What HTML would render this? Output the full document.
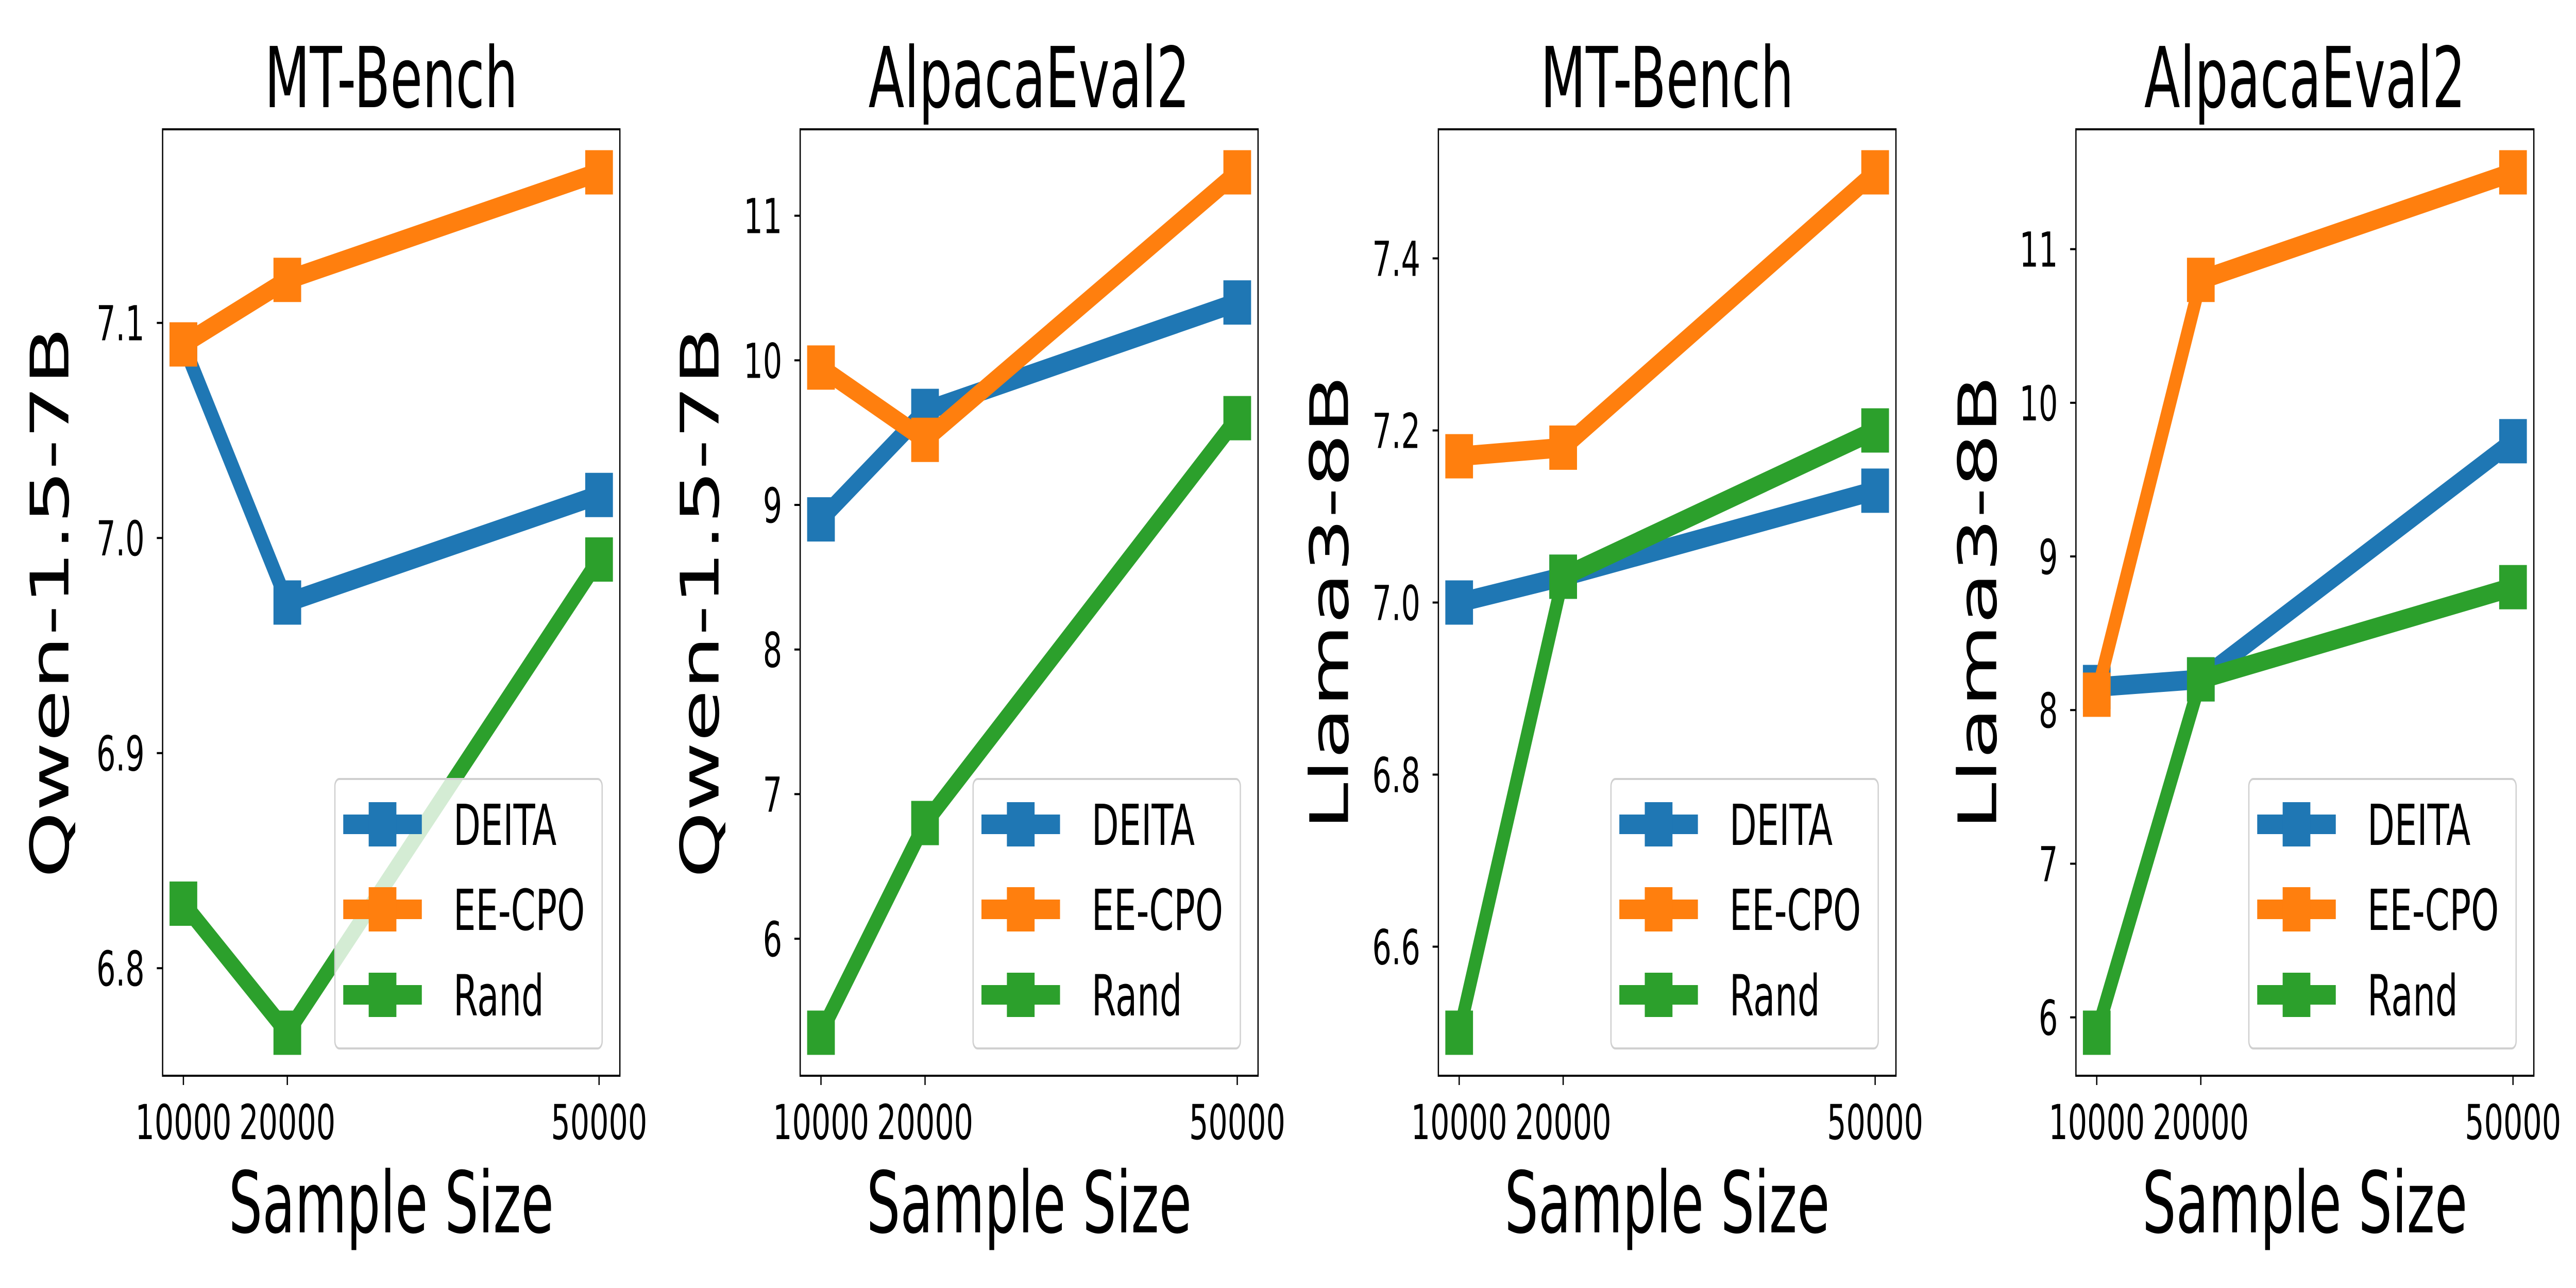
<!DOCTYPE html>
<html><head><meta charset="utf-8"><style>
html,body{margin:0;padding:0;background:#fff;width:100%;height:100%;overflow:hidden}
svg{display:block;width:100vw;height:100vh}
text{font-family:"DejaVu Sans","Liberation Sans",sans-serif;fill:#000}
</style></head>
<body>
<svg id="fig" viewBox="0 0 8000 2500" preserveAspectRatio="none" xmlns="http://www.w3.org/2000/svg"></svg>
<script>
// Shared x data
const sampleSizes = [10000, 20000, 50000];
const xTicks = [10000, 20000, 50000];
const seriesNames = ["DEITA", "EE-CPO", "Rand"];
const seriesColors = ["#1f77b4", "#ff7f0e", "#2ca02c"];

// Panel 1: Qwen MT-Bench
const p1Deita = [7.09, 6.97, 7.02];
const p1Eecpo = [7.09, 7.12, 7.17];
const p1Rand = [6.83, 6.77, 6.99];
const p1Ticks = ["6.8", "6.9", "7.0", "7.1"];
// Panel 2: Qwen AlpacaEval2
const p2Deita = [8.9, 9.65, 10.4];
const p2Eecpo = [9.95, 9.45, 11.3];
const p2Rand = [5.35, 6.8, 9.6];
const p2Ticks = ["6", "7", "8", "9", "10", "11"];
// Panel 3: Llama MT-Bench
const p3Deita = [7.0, 7.03, 7.13];
const p3Eecpo = [7.17, 7.18, 7.5];
const p3Rand = [6.5, 7.03, 7.2];
const p3Ticks = ["6.6", "6.8", "7.0", "7.2", "7.4"];
// Panel 4: Llama AlpacaEval2
const p4Deita = [8.15, 8.2, 9.75];
const p4Eecpo = [8.1, 10.8, 11.5];
const p4Rand = [5.9, 8.2, 8.8];
const p4Ticks = ["6", "7", "8", "9", "10", "11"];

const panelTitles = ["MT-Bench", "AlpacaEval2", "MT-Bench", "AlpacaEval2"];
const panelYLabels = ["Qwen-1.5-7B", "Qwen-1.5-7B", "Llama3-8B", "Llama3-8B"];

const NS = "http://www.w3.org/2000/svg";
const svg = document.getElementById("fig");
function mk(tag, attrs, parent) {
  const e = document.createElementNS(NS, tag);
  for (const k in attrs) e.setAttribute(k, attrs[k]);
  (parent || svg).appendChild(e);
  return e;
}

const layout = [
  {left: 505, right: 1925, ylabOff: 349},
  {left: 2485, right: 3907, ylabOff: 310},
  {left: 4467, right: 5888, ylabOff: 337},
  {left: 6447, right: 7869, ylabOff: 304}
];
const TOP = 251, BOT = 2088;
const panelsData = [
  [p1Deita, p1Eecpo, p1Rand, p1Ticks],
  [p2Deita, p2Eecpo, p2Rand, p2Ticks],
  [p3Deita, p3Eecpo, p3Rand, p3Ticks],
  [p4Deita, p4Eecpo, p4Rand, p4Ticks]
];

panelsData.forEach((pd, pi) => {
  const L = layout[pi];
  const series = [pd[0], pd[1], pd[2]];
  const ticks = pd[3];
  const g = mk("g", {});
  
  

  const xmin = Math.min(...sampleSizes), xmax = Math.max(...sampleSizes);
  const xpad = (xmax - xmin) * 0.05;
  const all = series.flat();
  const ymin = Math.min(...all), ymax = Math.max(...all);
  const ypad = (ymax - ymin) * 0.05;
  const X = v => L.left + (v - (xmin - xpad)) / ((xmax + xpad) - (xmin - xpad)) * (L.right - L.left);
  const Y = v => BOT - (v - (ymin - ypad)) / ((ymax + ypad) - (ymin - ypad)) * (BOT - TOP);

  const cp = mk("clipPath", {id: "clip" + pi}, g);
  mk("rect", {x: L.left, y: TOP, width: L.right - L.left, height: BOT - TOP}, cp);

  series.forEach((vals, si) => {
    const sg = mk("g", {"clip-path": "url(#clip" + pi + ")"}, g);
    
    
    const pts = vals.map((v, i) => X(sampleSizes[i]) + "," + Y(v)).join(" ");
    const pl = mk("polyline", {points: pts, fill: "none", stroke: seriesColors[si], "stroke-width": 38, "stroke-linejoin": "round"}, sg);
    
    
    vals.forEach((v, i) => {
      const r = mk("rect", {x: X(sampleSizes[i]) - 43, y: Y(v) - 43, width: 86, height: 86, fill: seriesColors[si]}, sg);
      
      
    });
  });

  const fr = mk("rect", {x: L.left, y: TOP, width: L.right - L.left, height: BOT - TOP, fill: "none", stroke: "#000", "stroke-width": 4}, g);
  
  

  xTicks.forEach(t => {
    mk("line", {x1: X(t), x2: X(t), y1: BOT, y2: BOT + 18, stroke: "#000", "stroke-width": 4}, g);
    const tx = mk("text", {x: X(t), y: 2211, "font-size": 94, "text-anchor": "middle"}, g);
    tx.textContent = String(t);
    
    
  });
  ticks.forEach(t => {
    const v = parseFloat(t);
    mk("line", {x1: L.left - 18, x2: L.left, y1: Y(v), y2: Y(v), stroke: "#000", "stroke-width": 4}, g);
    const tx = mk("text", {x: L.left - 56, y: Y(v) + 34, "font-size": 94, "text-anchor": "end"}, g);
    tx.textContent = t;
    
    
  });

  const cx = (L.left + L.right) / 2;
  const ti = mk("text", {x: cx, y: 208, "font-size": 163, "text-anchor": "middle"}, g);
  ti.textContent = panelTitles[pi];
  
  
  const xl = mk("text", {x: cx, y: 2392, "font-size": 165, "text-anchor": "middle"}, g);
  xl.textContent = "Sample Size";
  
  
  const yx = L.left - L.ylabOff, yy = (TOP + BOT) / 2;
  const yl = mk("text", {x: yx, y: yy, "font-size": 165, "text-anchor": "middle", "dominant-baseline": "central", transform: "rotate(-90 " + yx + " " + yy + ")"}, g);
  yl.textContent = panelYLabels[pi];
  
  

  const lg = mk("g", {}, g);
  
  
  const lx = L.right - 885, ly = 1512;
  mk("rect", {x: lx, y: ly, width: 830, height: 523, rx: 14, fill: "rgba(255,255,255,0.8)", stroke: "#d0d0d0", "stroke-width": 4}, lg);
  const rows = [1600, 1765, 1931];
  seriesNames.forEach((n, si) => {
    const en = mk("g", {}, lg);
    
    
    mk("line", {x1: lx + 26, x2: lx + 270, y1: rows[si], y2: rows[si], stroke: seriesColors[si], "stroke-width": 38}, en);
    mk("rect", {x: lx + 148 - 43, y: rows[si] - 43, width: 86, height: 86, fill: seriesColors[si]}, en);
    const t = mk("text", {x: lx + 368, y: rows[si] + 40, "font-size": 110}, en);
    t.textContent = n;
  });
});
</script>
</body></html>
